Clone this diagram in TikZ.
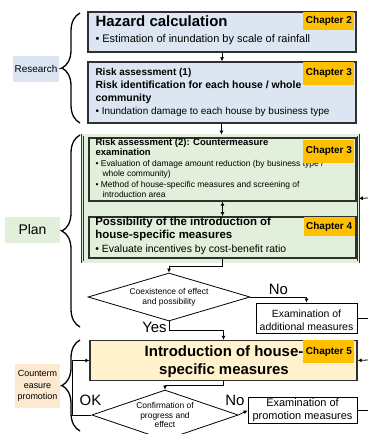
\documentclass[tikz,border=0pt]{standalone}
\usepackage{fontspec}
\setmainfont{Liberation Sans}
\usetikzlibrary{positioning, calc, shapes.geometric, decorations.pathreplacing, arrows.meta}

\definecolor{bluebox}{HTML}{DCE6F2}
\definecolor{greenbox}{HTML}{E2EFDA}
\definecolor{creambox}{HTML}{FFF2CC}
\definecolor{chapfill}{HTML}{FFC000}
\definecolor{peach}{HTML}{FDE9D0}
\definecolor{edge}{HTML}{303030}

\begin{document}
\begin{tikzpicture}[x=1bp, y=-1bp,
    box/.style={draw=edge, line width=1.3pt, inner sep=0pt},
    chap/.style={fill=chapfill, font=\bfseries\fontsize{10}{12}\selectfont, minimum width=51bp, inner sep=0pt, anchor=north east},
    boxtext/.style={anchor=north west, align=left, inner sep=0pt},
    plainbox/.style={draw=black, line width=0.9pt, fill=white, inner sep=0pt, align=center},
    decide/.style={diamond, draw=black, line width=0.8pt, fill=white, aspect=3.4, inner sep=0pt, align=center, font=\fontsize{8.5}{10}\selectfont},
    link/.style={line width=0.8pt, -{Latex[length=4bp,width=4bp]}},
    answer/.style={font=\fontsize{15}{15}\selectfont, inner sep=0pt},
    curly/.style={decorate, decoration={brace, amplitude=18bp, aspect=0.5}, line width=1.3pt},
    phase/.style={inner sep=0pt, align=center}
  ]
  \useasboundingbox (0,0) rectangle (368,434);

  % research
  \node[box, fill=bluebox, minimum width=268bp, minimum height=40bp] (hazard) at (222,32) {};
  \node[boxtext, font=\fontsize{11}{16}\selectfont] (hazardtxt) at ($(hazard.north west)+(8,4.5)$)
    {{\bfseries\fontsize{15}{16}\selectfont Hazard calculation}\\• Estimation of inundation by scale of rainfall};
  \node[chap, minimum height=18bp] (ch2) at ($(hazard.north east)+(-2,0)$) {Chapter 2};

  \node[box, fill=bluebox, minimum width=268bp, minimum height=61bp] (risk1) at (222,92.5) {};
  \node[boxtext, font=\fontsize{10}{13}\selectfont] (risk1txt) at ($(risk1.north west)+(8,6.4)$)
    {\bfseries Risk assessment (1)\\\bfseries\fontsize{10.5}{13}\selectfont Risk identification for each house / whole\\\bfseries\fontsize{10.5}{13}\selectfont community\\• Inundation damage to each house by business type};
  \node[chap, minimum height=23bp] (ch3a) at ($(risk1.north east)+(-2,0)$) {Chapter 3};

  % plan
  \node[draw=edge, double=greenbox, double distance=1.5pt, line width=0.7pt, fill=greenbox, minimum width=276bp, minimum height=127bp] (plan) at (220.5,198.5) {};
  \node[box, fill=greenbox, minimum width=267bp, minimum height=63bp] (assess2) at (222.5,169.5) {};
  \node[boxtext, font=\fontsize{8.5}{10.5}\selectfont] (assess2txt) at ($(assess2.north west)+(7,1)$)
    {{\bfseries\fontsize{9.5}{10.5}\selectfont Risk assessment (2): Countermeasure}\\{\bfseries\fontsize{9.5}{10.5}\selectfont examination}\\• Evaluation of damage amount reduction (by business type /\\\hspace{7bp}whole community)\\• Method of house-specific measures and screening of\\\hspace{7bp}introduction area};
  \node[chap, minimum height=23bp] (ch3b) at ($(assess2.north east)+(-2,2)$) {Chapter 3};

  \node[box, fill=greenbox, line width=1.7pt, minimum width=267bp, minimum height=41bp] (possib) at (222.5,237.5) {};
  \node[boxtext, font=\fontsize{10.5}{13.5}\selectfont] (possibtxt) at ($(possib.north west)+(7,0.6)$)
    {{\bfseries\fontsize{11.5}{13.5}\selectfont Possibility of the introduction of}\\{\bfseries\fontsize{11.5}{13.5}\selectfont house-specific measures}\\• Evaluate incentives by cost-benefit ratio};
  \node[chap, minimum height=19bp] (ch4) at ($(possib.north east)+(-2,1)$) {Chapter 4};

  \node[decide, minimum width=162bp, minimum height=48bp] (coexist) at (169,297) {Coexistence of effect\\and possibility};
  \node[plainbox, minimum width=101bp, minimum height=30bp] (addmeas) at (306.5,318) {};
  \node[phase, font=\fontsize{10.5}{13}\selectfont] (addmeastxt) at (306.5,320) {Examination of\\additional measures};

  % promotion
  \node[box, fill=creambox, minimum width=267bp, minimum height=40bp] (intro) at (223.5,360.5) {};
  \node[phase, font=\bfseries\fontsize{15}{18}\selectfont] (introtxt) at (224,362) {Introduction of house-\\specific measures};
  \node[chap, minimum height=23bp] (ch5) at ($(intro.north east)+(-3,0)$) {Chapter 5};

  \node[decide, minimum width=144bp, minimum height=50bp] (confirm) at (165,415) {Confirmation of\\progress and\\effect};
  \node[plainbox, minimum width=109bp, minimum height=26bp, font=\fontsize{11}{13}\selectfont] (promo) at (302.5,410.5) {Examination of\\promotion measures};

  % phases
  \draw[curly] (80,123) -- (80,13);
  \draw[curly] (80,327) -- (80,135);
  \draw[curly] (80,431) -- (80,340);
  \coordinate (rtip) at (62,68);
  \coordinate (ptip) at (62,231);
  \coordinate (ctip) at (62,385.5);
  \node[phase, fill=bluebox, minimum width=46bp, minimum height=26bp, font=\fontsize{10}{12}\selectfont] (research) at (36,69) {Research};
  \node[phase, fill=greenbox, minimum width=55bp, minimum height=26bp, font=\fontsize{14}{16}\selectfont] (planlbl) at (32.5,230) {Plan};
  \node[phase, fill=peach, minimum width=45bp, minimum height=44bp, font=\fontsize{9}{11.5}\selectfont] (counter) at (37.5,386) {Counterm\\easure\\promotion};
  \draw[line width=0.8pt] (research.east) -- (rtip);
  \draw[line width=0.8pt] (planlbl.east) -- (ptip);
  \draw[line width=0.8pt] (counter.east) -- (ctip);

  % connectors
  \coordinate (fbplan) at (368,198);
  \coordinate (fbadd) at (368,318);
  \coordinate (fbintro) at (368,360);
  \coordinate (fbpromo) at (368,410.5);
  \draw[link] (hazard) -- (risk1);
  \draw[link] (risk1) -- (plan);
  \draw[line width=0.8pt, {Latex[length=4bp,width=4bp]}-{Latex[length=4bp,width=4bp]}] (assess2) -- (possib);
  \draw[link] (fbplan) -- (plan.east);
  \draw[link] (possib.south) -- ++(0,8) -| (coexist.north);
  \draw[link] (coexist.east) -| (addmeas.north);
  \draw[line width=0.8pt] (addmeas.east) -- (fbadd);
  \draw[link] (coexist.south) -- ++(0,9) -| (intro.north);
  \draw[link] (fbintro) -- (intro.east);
  \draw[link] (intro.south) -- ++(0,4) -| (confirm.north);
  \draw[link] (confirm.east) -- (promo.west);
  \draw[line width=0.8pt] (promo.east) -- (fbpromo);
  \draw[link] (confirm.west) -- ++(-19,0) |- (intro.west);

  \node[answer] (no1) at (278.5,289) {No};
  \node[answer] (yes1) at (154.5,327) {Yes};
  \node[answer] (ok2) at (90.5,400) {OK};
  \node[answer] (no2) at (235,400) {No};
\end{tikzpicture}
\end{document}
